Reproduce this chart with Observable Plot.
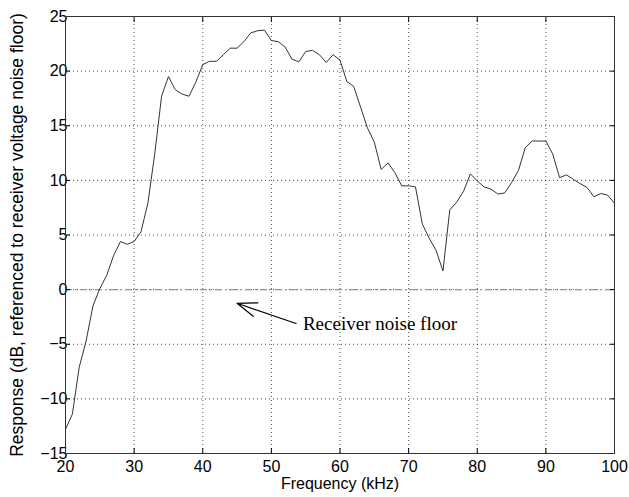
<!DOCTYPE html>
<html>
<head>
<meta charset="utf-8">
<script src="https://cdn.jsdelivr.net/npm/d3@7"></script>
<script src="https://cdn.jsdelivr.net/npm/@observablehq/plot@0.6"></script>
<style>
  html, body { margin: 0; padding: 0; background: #fff; }
  #chart svg { display: block; }
</style>
</head>
<body>
<div id="chart"></div>
<script>
const freq = [20,21,22,23,24,25,26,27,28,29,30,31,32,33,34,35,36,37,38,39,40,41,42,43,44,45,46,47,48,49,50,51,52,53,54,55,56,57,58,59,60,61,62,63,64,65,66,67,68,69,70,71,72,73,74,75,76,77,78,79,80,81,82,83,84,85,86,87,88,89,90,91,92,93,94,95,96,97,98,99,100];
const response = [-12.8,-11.4,-7.1,-4.7,-1.5,0.1,1.3,3.1,4.4,4.15,4.4,5.3,7.9,12.4,17.7,19.5,18.3,17.9,17.7,19.0,20.6,20.9,20.9,21.5,22.1,22.1,22.7,23.5,23.7,23.75,22.8,22.7,22.2,21.1,20.85,21.8,21.9,21.5,20.8,21.5,21.0,19.05,18.6,16.7,14.8,13.5,11.0,11.6,10.7,9.5,9.5,9.4,6.0,4.7,3.6,1.7,7.3,8.0,9.0,10.6,9.95,9.4,9.2,8.75,8.85,9.8,10.9,13.0,13.6,13.6,13.6,12.4,10.25,10.5,10.1,9.7,9.35,8.5,8.8,8.65,7.9];
const xTicks = [20,30,40,50,60,70,80,90,100];
const yTicks = [-15,-10,-5,0,5,10,15,20,25];
const noiseFloor = [0];
const annotationText = ["Receiver noise floor"];
const arrowFrom = [53.6, -3.1];
const arrowTo = [45.0, -1.25];

const data = freq.map((f, i) => ({f, r: response[i]}));

const chart = Plot.plot({
  width: 629,
  height: 497,
  marginLeft: 65,
  marginRight: 15,
  marginTop: 16,
  marginBottom: 44,
  style: {fontFamily: "'Liberation Sans', Arial, sans-serif", fontSize: "16px", color: "#000", background: "#fff"},
  x: {domain: [20, 100]},
  y: {domain: [-15, 25]},
  marks: [
    Plot.gridX(xTicks.slice(1, -1), {stroke: "#000", strokeOpacity: 0.7, strokeDasharray: "1,3"}),
    Plot.gridY(yTicks.slice(1, -1), {stroke: "#000", strokeOpacity: 0.7, strokeDasharray: "1,3"}),
    Plot.ruleY(noiseFloor, {stroke: "#999", strokeWidth: 1.2, strokeDasharray: "7,3,2,3"}),
    Plot.line(data, {x: "f", y: "r", stroke: "#333", strokeWidth: 1}),
    Plot.arrow([{x1: arrowFrom[0], y1: arrowFrom[1], x2: arrowTo[0], y2: arrowTo[1]}], {
      x1: "x1", y1: "y1", x2: "x2", y2: "y2", stroke: "#000", strokeWidth: 1.2, headAngle: 40, headLength: 26
    }),
    Plot.text(annotationText, {x: 54.6, y: -3.1, text: d => d, textAnchor: "start", fontFamily: "'Liberation Serif', 'Times New Roman', serif", fontSize: 19, fill: "#000"}),
    Plot.axisX(xTicks, {anchor: "bottom", tickSize: -5, tickPadding: 12, label: "Frequency (kHz)", labelAnchor: "center", labelArrow: "none", labelOffset: 35, fontSize: 16}),
    Plot.axisX(xTicks, {anchor: "top", tickSize: -5, tickFormat: () => "", label: null}),
    Plot.axisY(yTicks, {anchor: "left", tickSize: -5, tickPadding: 3, label: null, fontSize: 16}),
    Plot.text(["Response (dB, referenced to receiver voltage noise floor)"], {
      frameAnchor: "left", dx: -48, rotate: -90, text: d => d, fontSize: 17.5, fill: "#000", textAnchor: "middle"
    }),
    Plot.axisY(yTicks, {anchor: "right", tickSize: -5, tickFormat: () => "", label: null}),
    Plot.frame({stroke: "#333", strokeWidth: 1})
  ]
});
document.getElementById("chart").appendChild(chart);
</script>
</body>
</html>
